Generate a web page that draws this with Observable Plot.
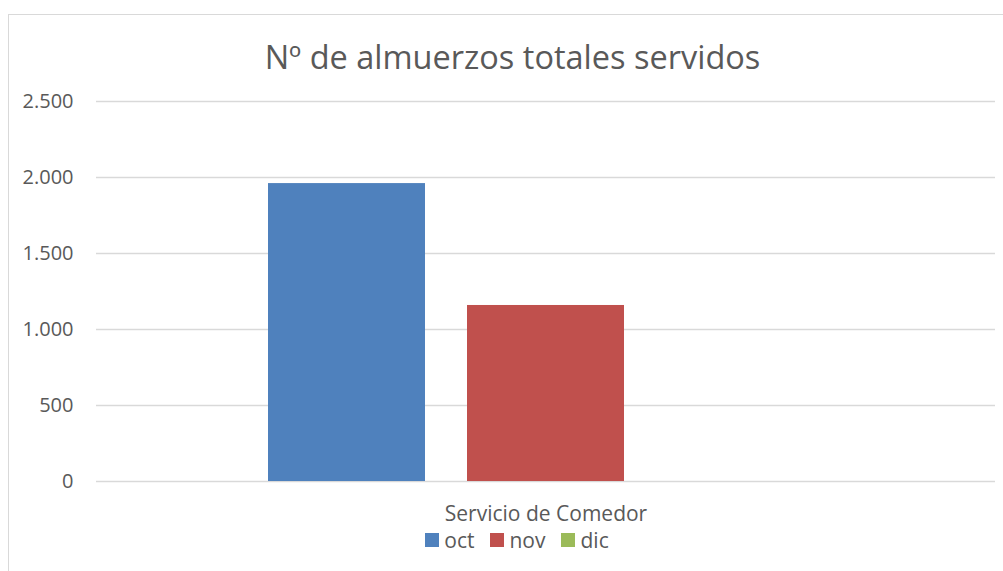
<!DOCTYPE html>
<html>
<head>
<meta charset="utf-8">
<script src="https://cdn.jsdelivr.net/npm/d3@7"></script>
<script src="https://cdn.jsdelivr.net/npm/@observablehq/plot@0.6"></script>
<style>
  html, body { margin: 0; padding: 0; background: #fff; width: 1003px; height: 571px; overflow: hidden; }
  body { position: relative; font-family: "Open Sans", sans-serif; color: #595959; }
  #frame { position: absolute; left: 8px; top: 14px; width: 1100px; height: 700px; border: 1px solid #d9d9d9; box-sizing: border-box; }
  #title { position: absolute; left: 0; width: 1025px; top: 41px; text-align: center; font-size: 32.5px; line-height: 32.5px; color: #595959; white-space: nowrap; }
  #chart { position: absolute; left: 0; top: 80px; }
  #legend { position: absolute; left: 0; width: 1034px; top: 528px; display: flex; justify-content: center; align-items: center; font-size: 21px; line-height: 24px; color: #595959; }
  .item { display: flex; align-items: center; margin: 0 8px; }
  .sw { width: 14px; height: 14px; margin-right: 5px; }
</style>
</head>
<body>
<div id="frame"></div>
<div id="title">Nº de almuerzos totales servidos</div>
<div id="chart"></div>
<div id="legend"></div>
<script>
const categories = ["Servicio de Comedor"];
const months = ["oct", "nov", "dic"];
const values = [1960, 1158, 0];
const colors = ["#4f81bd", "#c0504d", "#9bbb59"];
const yTicks = [0, 500, 1000, 1500, 2000, 2500];

const data = months.map((m, i) => ({cat: categories[0], month: m, value: values[i]}));
const fmt = d3.formatLocale({decimal: ",", thousands: ".", grouping: [3], currency: ["", "€"]}).format(",");

const plot = Plot.plot({
  width: 1003,
  height: 450,
  marginLeft: 96,
  marginRight: 8,
  marginTop: 21,
  marginBottom: 49,
  style: {fontFamily: "Open Sans", fontSize: "20px", color: "#595959", background: "transparent"},
  fx: {domain: categories, paddingInner: 0, paddingOuter: 0, label: null},
  x: {domain: months, paddingInner: 0.211, paddingOuter: 0.864, axis: null},
  y: {domain: [0, 2500], ticks: yTicks, label: null},
  color: {domain: months, range: colors},
  marks: [
    Plot.gridY(yTicks, {stroke: "#d9d9d9", strokeOpacity: 1, strokeWidth: 1.3}),
    Plot.axisY(yTicks, {tickSize: 0, tickPadding: 23, tickFormat: fmt, label: null, fontSize: 20}),
    Plot.axisFx({anchor: "bottom", tickSize: 0, tickPadding: 25, label: null, fontSize: 21}),
    Plot.barY(data, {fx: "cat", x: "month", y: "value", fill: "month"})
  ]
});
document.getElementById("chart").appendChild(plot);

const legend = document.getElementById("legend");
months.forEach((m, i) => {
  const it = document.createElement("div");
  it.className = "item";
  const sw = document.createElement("div");
  sw.className = "sw";
  sw.style.background = colors[i];
  const t = document.createElement("span");
  t.textContent = m;
  it.appendChild(sw);
  it.appendChild(t);
  legend.appendChild(it);
});
</script>
</body>
</html>
